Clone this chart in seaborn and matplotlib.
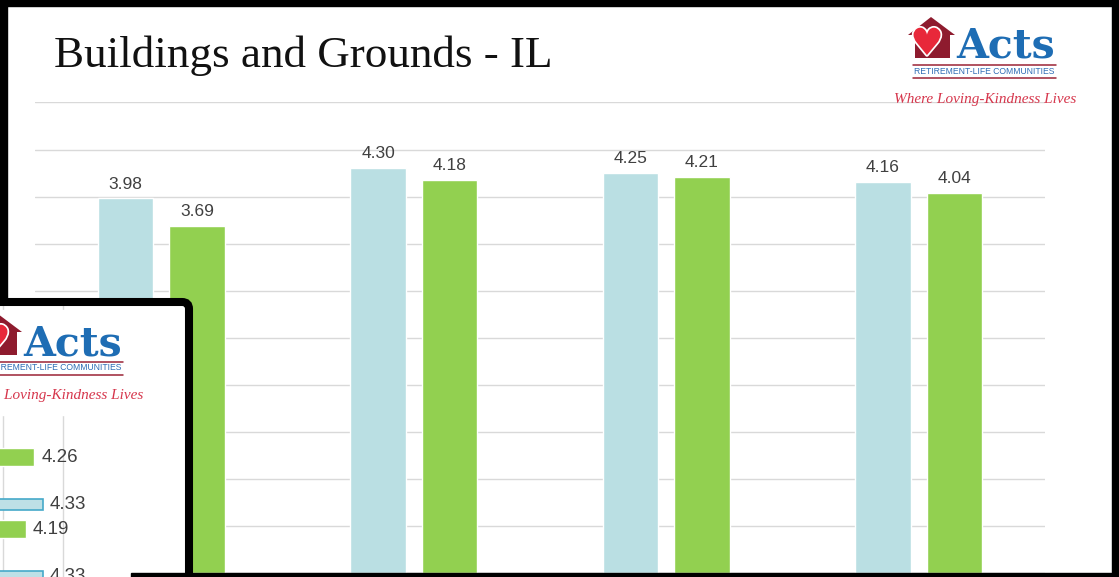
import numpy as np
import pandas as pd
from matplotlib import pyplot as plt
from matplotlib.patches import Rectangle, Polygon, FancyBboxPatch
import matplotlib.patheffects as pe
import seaborn as sns

# main chart data (category names are cut off in the screenshot)
categories = ['Item 1', 'Item 2', 'Item 3', 'Item 4']
series_names = ['Series 1', 'Series 2']
values_blue = [3.98, 4.30, 4.25, 4.16]
values_green = [3.69, 4.18, 4.21, 4.04]

# inset (second slide peeking in bottom-left)
inset_blue = [np.nan, 4.33, 4.33]
inset_green = [4.26, 4.19, np.nan]

BLUE = '#BADFE3'
GREEN = '#92D050'
GRID = '#D9D9D9'
LABEL = '#404040'

W, H = 1119, 577
sns.set_theme(style='white')
fig = plt.figure(figsize=(W / 100, H / 100), dpi=100)


def px_axes(z):
    a = fig.add_axes([0, 0, 1, 1], zorder=z)
    a.set_xlim(0, W)
    a.set_ylim(H, 0)
    a.axis('off')
    return a


def draw_logo(a, dx, dy):
    house = Polygon([(915 + dx, 58 + dy), (915 + dx, 35 + dy), (908 + dx, 35 + dy), (931 + dx, 17 + dy),
                     (955 + dx, 35 + dy), (950 + dx, 35 + dy), (950 + dx, 58 + dy)],
                    closed=True, fc='#8E1B2E', ec='none')
    a.add_patch(house)
    a.text(927 + dx, 45 + dy, '\u2665', color='#E8283A', fontsize=27, ha='center', va='center',
           family='DejaVu Sans',
           path_effects=[pe.withStroke(linewidth=2.5, foreground='white')])
    a.text(956 + dx, 58 + dy, 'Acts', color='#1E6DB4', fontsize=29.5, fontweight='bold',
           family='DejaVu Serif', ha='left', va='baseline')
    a.plot([913 + dx, 1056 + dx], [64.5 + dy, 64.5 + dy], color='#9B2335', lw=1.1)
    a.plot([913 + dx, 1056 + dx], [77.5 + dy, 77.5 + dy], color='#9B2335', lw=1.1)
    a.text(984.5 + dx, 71 + dy, 'RETIREMENT-LIFE COMMUNITIES', color='#2F6DB5', fontsize=6.2,
           family=['Liberation Sans Narrow', 'Liberation Sans'], ha='center', va='center')
    a.text(985 + dx, 99 + dy, 'Where Loving-Kindness Lives', color='#D6364C', fontsize=11,
           family='Liberation Serif', style='italic', ha='center', va='center')


# ---- main chart ----
ax = fig.add_axes([35 / W, (H - 573) / H, 1010 / W, (573 - 102.5) / H], zorder=1)
df = pd.DataFrame({
    'category': categories * 2,
    'series': [series_names[0]] * 4 + [series_names[1]] * 4,
    'value': values_blue + values_green,
})
sns.barplot(data=df, x='category', y='value', hue='series', palette=[BLUE, GREEN],
            width=0.566, gap=0.217, saturation=1, legend=False, ax=ax)
ax.set_ylim(0, 5)
ax.set_yticks(np.arange(0, 5.01, 0.5))
ax.yaxis.grid(True, color=GRID, lw=1)
ax.set_axisbelow(True)
ax.tick_params(left=False, bottom=False, labelleft=False, labelbottom=False)
ax.set_xlabel('')
ax.set_ylabel('')
for s in ax.spines.values():
    s.set_visible(False)
for c in ax.containers:
    ax.bar_label(c, fmt='%.2f', padding=5, fontsize=12.5, color=LABEL, family='Liberation Sans')

# title, logo and frame of the main slide
ov1 = px_axes(2)
ov1.text(54, 67, 'Buildings and Grounds - IL', fontsize=32.5, family='Liberation Serif',
         color='#111111', ha='left', va='baseline')
draw_logo(ov1, 0, 0)
ov1.add_patch(Rectangle((0, 0), 7, H, color='black'))
ov1.add_patch(Rectangle((0, 0), W, 6, color='black'))
ov1.add_patch(Rectangle((1112, 0), 7, H, color='black'))

# ---- inset slide ----
ins = fig.add_axes([0, 0, 189 / W, (H - 302) / H], zorder=3)
ins.set_facecolor('white')
idx = np.arange(len(inset_green))
gb = ins.barh(idx, inset_green, height=0.25, color=GREEN)
bb = ins.barh(idx - 0.34, inset_blue, height=0.14, color='#BDE0E6', edgecolor='#45A9C9', lw=1.2)
ins.set_xlim(3.975, 3.975 + 189 / 120)
ins.set_ylim((577 - 457) / 72, (302 - 457) / 72)
ins.set_xticks([4.0, 4.5])
ins.xaxis.grid(True, color=GRID, lw=1)
ins.set_axisbelow(True)
ins.tick_params(left=False, bottom=False, labelleft=False, labelbottom=False)
for s in ins.spines.values():
    s.set_visible(False)
for c in (gb, bb):
    ins.bar_label(c, fmt='%.2f', padding=5, fontsize=13.5, color=LABEL, family='Liberation Sans')

ov2 = px_axes(4)
ov2.add_patch(Rectangle((0, 310), 146, 105, color='white'))
draw_logo(ov2, -933, 297)
ov2.add_patch(FancyBboxPatch((-60, 302), 249, 320, boxstyle='round,pad=0,rounding_size=7',
                             fill=False, ec='black', lw=5.8))
ov2.add_patch(Rectangle((131, 573), W - 131, 5, color='black'))

fig.savefig('out.png', dpi=100)
